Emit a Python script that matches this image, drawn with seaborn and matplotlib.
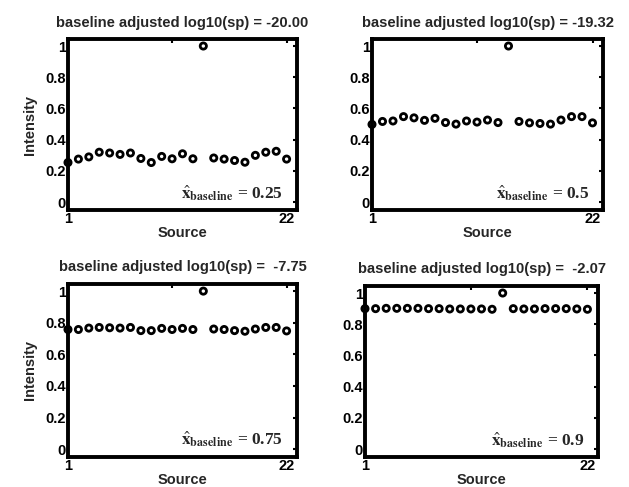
import numpy as np
import pandas as pd
import seaborn as sb
from matplotlib import pyplot as plt

# source index 1..22; source 14 is the spiked one (value 1)
sources = list(range(1, 23))

intensity_025 = [0.254, 0.276, 0.290, 0.320, 0.315, 0.306, 0.315, 0.280, 0.254, 0.293, 0.278,
                 0.310, 0.278, 1.000, 0.283, 0.276, 0.267, 0.256, 0.300, 0.320, 0.326, 0.276]
intensity_050 = [0.498, 0.517, 0.520, 0.548, 0.540, 0.524, 0.537, 0.510, 0.500, 0.520, 0.513,
                 0.526, 0.510, 1.000, 0.517, 0.508, 0.504, 0.500, 0.526, 0.548, 0.548, 0.508]
intensity_075 = [0.757, 0.757, 0.766, 0.770, 0.768, 0.766, 0.770, 0.750, 0.750, 0.764, 0.757,
                 0.764, 0.757, 1.000, 0.760, 0.757, 0.750, 0.746, 0.760, 0.770, 0.770, 0.748]
intensity_090 = [0.900, 0.900, 0.902, 0.902, 0.902, 0.902, 0.900, 0.900, 0.898, 0.898, 0.898,
                 0.898, 0.896, 1.000, 0.900, 0.898, 0.898, 0.900, 0.900, 0.900, 0.898, 0.896]

log10_sp = ["-20.00", "-19.32", " -7.75", " -2.07"]
baselines = ["0.25", "0.5", "0.75", "0.9"]

sb.set_style("white")
plt.rcParams["font.family"] = ["Liberation Sans", "DejaVu Sans"]
plt.rcParams["mathtext.fontset"] = "stix"

fig = plt.figure(figsize=(6.29, 4.87), dpi=100)
W, H = 629, 487

# axes boxes in pixels: left, top, right, bottom
boxes = [
    (68, 39, 297, 210),
    (372, 39, 603, 210),
    (68, 284, 297, 457),
    (365, 286, 598, 457),
]
series = [intensity_025, intensity_050, intensity_075, intensity_090]

for i, (box, vals) in enumerate(zip(boxes, series)):
    l, t, r, b = box
    ax = fig.add_axes([l / W, 1 - b / H, (r - l) / W, (b - t) / H])
    df = pd.DataFrame({"Source": sources, "Intensity": vals})
    sb.scatterplot(
        data=df, x="Source", y="Intensity", ax=ax,
        marker="o", s=20, facecolor="none", edgecolor="black", linewidth=2.0,
        clip_on=False, zorder=3,
    )
    ax.set_xlim(1, 23)
    ax.set_ylim(-0.05, 1.045)
    ax.set_xticks([1, 11, 22])
    ax.set_xticklabels(["1", "", "22"])
    ax.set_yticks([0, 0.2, 0.4, 0.6, 0.8, 1])
    ax.set_yticklabels(["0", "0.2", "0.4", "0.6", "0.8", "1"])
    ax.tick_params(direction="in", length=3, width=1.5, top=True, right=True,
                   labelsize=10.5, pad=1.5, colors="black")
    for lab in ax.get_xticklabels() + ax.get_yticklabels():
        lab.set_fontweight("bold")
    for sp in ax.spines.values():
        sp.set_linewidth(2.8)
        sp.set_color("black")
    ax.set_xlabel("Source", fontsize=10.5, fontweight="bold", labelpad=0)
    if i % 2 == 0:
        ax.set_ylabel("Intensity", fontsize=10.5, fontweight="bold", labelpad=6)
    else:
        ax.set_ylabel("")
    ax.set_title(f"baseline adjusted log10(sp) = {log10_sp[i]}",
                 fontsize=10.6, fontweight="bold", pad=9)
    ax.text(0.94, 0.10, r"$\hat{\mathbf{x}}_{\mathbf{baseline}}$" + f" = {baselines[i]}",
            transform=ax.transAxes, ha="right", va="center", fontsize=12.5,
            family="Liberation Serif", fontweight="bold")

fig.savefig("out.png", dpi=100)
plt.close()
